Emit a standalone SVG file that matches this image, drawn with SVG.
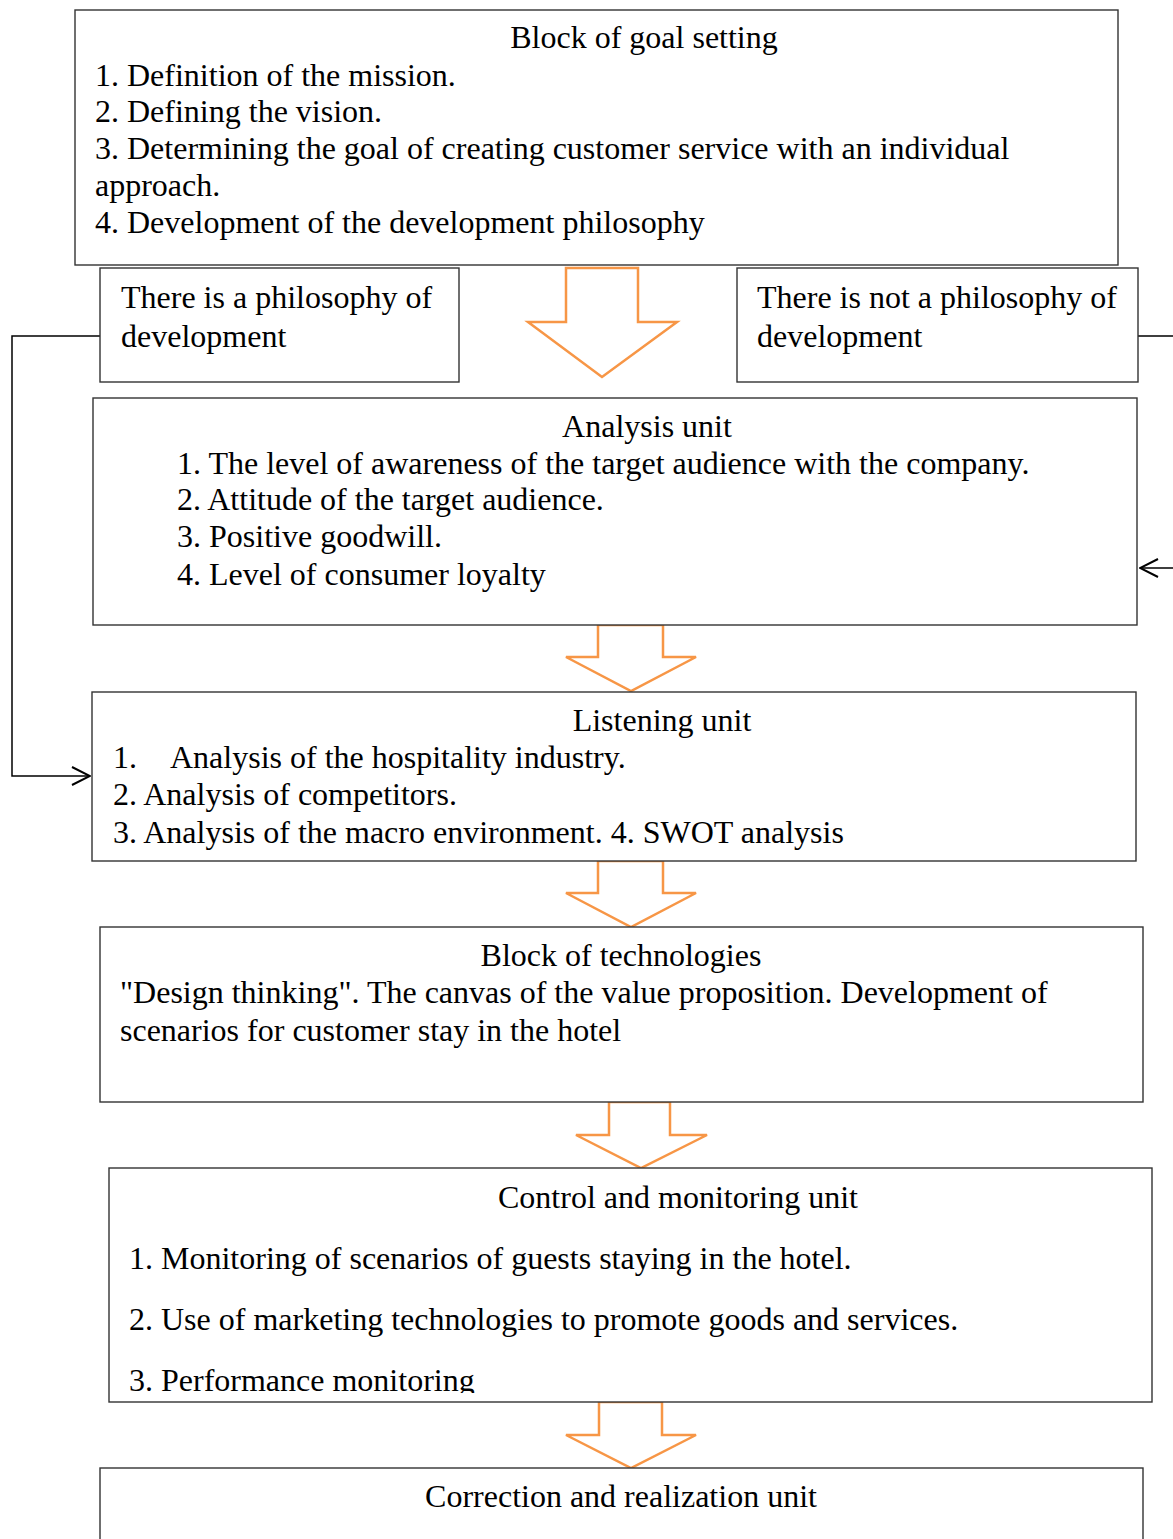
<svg xmlns="http://www.w3.org/2000/svg" width="1173" height="1539" viewBox="0 0 1173 1539">
<style>
.box{fill:#fff;stroke:#333;stroke-width:1.4}
.t{font-family:"Liberation Serif","Times New Roman",serif;font-size:32px;fill:#000}
.c{text-anchor:middle}
.big{fill:none;stroke:#F79646;stroke-width:2.5;stroke-linejoin:miter}
.conn{fill:none;stroke:#000;stroke-width:1.5}
</style>
<defs>
<marker id="open" viewBox="0 0 20 20" refX="19" refY="10" markerWidth="20" markerHeight="20" markerUnits="userSpaceOnUse" orient="auto">
<path d="M1,1 L19,10 L1,19" fill="none" stroke="#000" stroke-width="2"/>
</marker>
<clipPath id="clipCtrl"><rect x="109" y="1168" width="1044" height="225"/></clipPath>
</defs>
<rect width="1173" height="1539" fill="#fff"/>

<g id="connectors">
<path class="conn" d="M100,336 H12 V776 H90" marker-end="url(#open)"/>
<path class="conn" d="M1138,336 H1190 V568 H1140" marker-end="url(#open)"/>
<polygon class="big" points="566,268 638,268 638,322 677,322 602,377 528,322 566,322"/>
<polygon class="big" points="598,625 663,625 663,657 696,657 631,691 566,657 598,657"/>
<polygon class="big" points="598,861 663,861 663,893 696,893 631,927 566,893 598,893"/>
<polygon class="big" points="609,1102 670,1102 670,1135 707,1135 641,1168 576,1135 609,1135"/>
<polygon class="big" points="599,1402 662,1402 662,1435 696,1435 631,1468 566,1435 599,1435"/>
</g>

<g id="goal">
<rect class="box" x="75" y="10" width="1043" height="255"/>
<text class="t c" x="644" y="48">Block of goal setting</text>
<text class="t" x="95" y="86">1. Definition of the mission.</text>
<text class="t" x="95" y="122">2. Defining the vision.</text>
<text class="t" x="95" y="159">3. Determining the goal of creating customer service with an individual</text>
<text class="t" x="95" y="196">approach.</text>
<text class="t" x="95" y="233">4. Development of the development philosophy</text>
</g>

<g id="yes">
<rect class="box" x="100" y="268" width="359" height="114"/>
<text class="t" x="121" y="308">There is a philosophy of</text>
<text class="t" x="121" y="347">development</text>
</g>

<g id="no">
<rect class="box" x="737" y="268" width="401" height="114"/>
<text class="t" x="757" y="308">There is not a philosophy of</text>
<text class="t" x="757" y="347">development</text>
</g>

<g id="analysis">
<rect class="box" x="93" y="398" width="1044" height="227"/>
<text class="t c" x="647" y="437">Analysis unit</text>
<text class="t" x="177" y="474">1. The level of awareness of the target audience with the company.</text>
<text class="t" x="177" y="510">2. Attitude of the target audience.</text>
<text class="t" x="177" y="547">3. Positive goodwill.</text>
<text class="t" x="177" y="585">4. Level of consumer loyalty</text>
</g>

<g id="listening">
<rect class="box" x="92" y="692" width="1044" height="169"/>
<text class="t c" x="662" y="731">Listening unit</text>
<text class="t" x="113" y="768">1.</text>
<text class="t" x="170" y="768">Analysis of the hospitality industry.</text>
<text class="t" x="113" y="805">2. Analysis of competitors.</text>
<text class="t" x="113" y="843">3. Analysis of the macro environment. 4. SWOT analysis</text>
</g>

<g id="technologies">
<rect class="box" x="100" y="927" width="1043" height="175"/>
<text class="t c" x="621" y="966">Block of technologies</text>
<text class="t" x="120" y="1003">"Design thinking". The canvas of the value proposition. Development of</text>
<text class="t" x="120" y="1041">scenarios for customer stay in the hotel</text>
</g>

<g id="control">
<rect class="box" x="109" y="1168" width="1043" height="234"/>
<text class="t c" x="678" y="1208">Control and monitoring unit</text>
<g clip-path="url(#clipCtrl)">
<text class="t" x="129" y="1269">1. Monitoring of scenarios of guests staying in the hotel.</text>
<text class="t" x="129" y="1330">2. Use of marketing technologies to promote goods and services.</text>
<text class="t" x="129" y="1391">3. Performance monitoring</text>
</g>
</g>

<g id="correction">
<rect class="box" x="100" y="1468" width="1043" height="90"/>
<text class="t c" x="621" y="1507">Correction and realization unit</text>
</g>
</svg>
